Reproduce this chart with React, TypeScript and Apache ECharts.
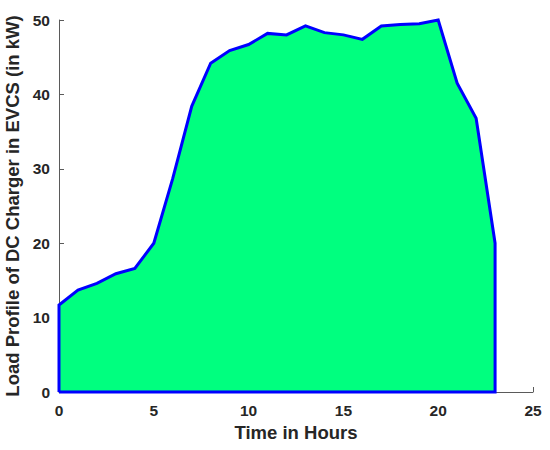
import React, { useEffect, useRef } from "react";
import * as echarts from "echarts";

const hours = [0, 1, 2, 3, 4, 5, 6, 7, 8, 9, 10, 11, 12, 13, 14, 15, 16, 17, 18, 19, 20, 21, 22, 23];
const loadKW = [11.7, 13.7, 14.6, 15.9, 16.6, 20.0, 28.7, 38.4, 44.2, 45.9, 46.7, 48.2, 48.0, 49.2, 48.3, 48.0, 47.4, 49.2, 49.4, 49.5, 50.0, 41.5, 36.8, 20.0];
const xTicks = [0, 5, 10, 15, 20, 25];
const yTicks = [0, 10, 20, 30, 40, 50];
const xTitle = "Time in Hours";
const yTitle = "Load Profile of DC Charger in EVCS (in kW)";

const FONT = "'Liberation Sans', Arial, Helvetica, sans-serif";
const TEXT = "#262626";
const AXIS = "#5a5a5a";

export default function App() {
  const ref = useRef<HTMLDivElement>(null);

  useEffect(() => {
    if (!ref.current) return;
    const chart = echarts.init(ref.current, undefined, { renderer: "svg" });

    const first = hours[0];
    const last = hours[hours.length - 1];
    // closed outline like MATLAB's area(): baseline -> curve -> baseline
    const outline: number[][] = [[first, 0]];
    hours.forEach((h, i) => outline.push([h, loadKW[i]]));
    outline.push([last, 0]);
    outline.push([first, 0]);

    chart.setOption({
      animation: false,
      textStyle: { fontFamily: FONT },
      grid: { left: 59, right: 17, top: 20, bottom: 58, containLabel: false, outerBoundsMode: "none" },
      xAxis: {
        type: "value",
        min: xTicks[0],
        max: xTicks[xTicks.length - 1],
        interval: xTicks[1] - xTicks[0],
        name: xTitle,
        nameLocation: "middle",
        nameGap: 30,
        nameTextStyle: { fontSize: 18.5, fontWeight: "bold", color: TEXT, fontFamily: FONT },
        axisLine: { show: true, lineStyle: { color: AXIS, width: 1 } },
        axisTick: { show: true, inside: true, length: 5, lineStyle: { color: AXIS } },
        axisLabel: { fontSize: 15.5, fontWeight: "bold", color: TEXT, margin: 10, fontFamily: FONT },
        splitLine: { show: false },
      },
      yAxis: {
        type: "value",
        min: yTicks[0],
        max: yTicks[yTicks.length - 1],
        interval: yTicks[1] - yTicks[0],
        name: yTitle,
        nameLocation: "middle",
        nameGap: 31,
        nameTextStyle: { fontSize: 18.5, fontWeight: "bold", color: TEXT, fontFamily: FONT },
        axisLine: { show: true, lineStyle: { color: AXIS, width: 1 } },
        axisTick: { show: true, inside: true, length: 5, lineStyle: { color: AXIS } },
        axisLabel: { fontSize: 15.5, fontWeight: "bold", color: TEXT, margin: 9, fontFamily: FONT },
        splitLine: { show: false },
      },
      series: [
        {
          type: "line",
          data: outline,
          symbol: "none",
          clip: false,
          lineStyle: { color: "#0000ff", width: 3, join: "miter" },
          areaStyle: { color: "#00ff7f", opacity: 1 },
          z: 3,
        },
      ],
    });

    return () => chart.dispose();
  }, []);

  return (
    <div
      ref={ref}
      style={{ position: "fixed", left: 0, top: 0, width: 550, height: 450, background: "#ffffff" }}
    />
  );
}
